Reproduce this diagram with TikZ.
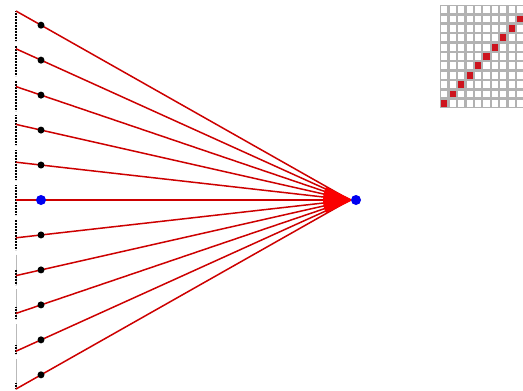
\documentclass[tikz,border=0pt]{standalone}
\begin{document}
\begin{tikzpicture}[x=1pt,y=-1pt,
  ray/.style={draw={rgb,255:red,205;green,0;blue,0},line width=1.5pt},
  elem/.style={circle,fill=black,inner sep=0pt,minimum size=7pt},
  focusdot/.style={circle,fill={rgb,255:red,0;green,0;blue,240},inner sep=0pt,minimum size=10pt},
  dotseg/.style={draw=black,line width=1.3pt,dash pattern=on 0.6pt off 0.9pt},
  grayseg/.style={draw=gray!55,line width=1pt},
  cellw/.style={fill=white},
  cellr/.style={fill={rgb,255:red,205;green,20;blue,30}},
  blob/.style={fill={rgb,255:red,250;green,0;blue,0}}]
\useasboundingbox (0,0) rectangle (523,391);
\clip (0,0) rectangle (523,391);
\fill[white] (0,0) rectangle (523,391);
% focus point
\coordinate (F) at (350,200);
% array segments
\foreach \i in {0,...,10}{
  \pgfmathsetmacro{\yy}{200+(\i-5)*37.8}
  \pgfmathsetmacro{\ya}{\yy-3*\i}
  \pgfmathsetmacro{\yb}{\ya+30}
  \ifnum\i>6
    \draw[grayseg] (16,\ya) -- (16,\yb);
    \draw[dotseg] (16,\yy-6) -- (16,\yb);
  \else
    \draw[dotseg] (16,\ya) -- (16,\yb);
  \fi
}
% rays
\foreach \i in {0,...,10}{
  \pgfmathsetmacro{\yy}{200+(\i-5)*37.8}
  \coordinate (S\i) at (16,\yy);
  \draw[ray] (S\i) -- (F);
}
% bright convergence region
\fill[blob] (326,187) -- (351,199) -- (351,201) -- (326,213) .. controls (322,205) and (322,195) .. (326,187) -- cycle;
% element dots
\foreach \i in {0,...,4,6,7,8,9,10}{
  \pgfmathsetmacro{\yd}{200+(\i-5)*37.8*0.925}
  \node[elem] (E\i) at (41,\yd) {};
}
\node[focusdot] (E5) at (41,200) {};
\node[focusdot] (T) at (356,200) {};
% matrix
\def\px{8.45}
\def\py{9.36}
\fill[gray!60] (440,5) rectangle (440+11*\px,5+11*\py);
\foreach \r in {0,...,10}{
  \foreach \c in {0,...,10}{
    \pgfmathsetmacro{\xa}{440+\c*\px+1.2}
    \pgfmathsetmacro{\ya}{5+\r*\py+1.3}
    \pgfmathtruncatemacro{\s}{\r+\c}
    \ifnum\s=10
      \fill[cellr] (\xa,\ya) rectangle ++(\px-2.4,\py-2.6);
    \else
      \fill[cellw] (\xa,\ya) rectangle ++(\px-2.4,\py-2.6);
    \fi
  }
}
\end{tikzpicture}
\end{document}
